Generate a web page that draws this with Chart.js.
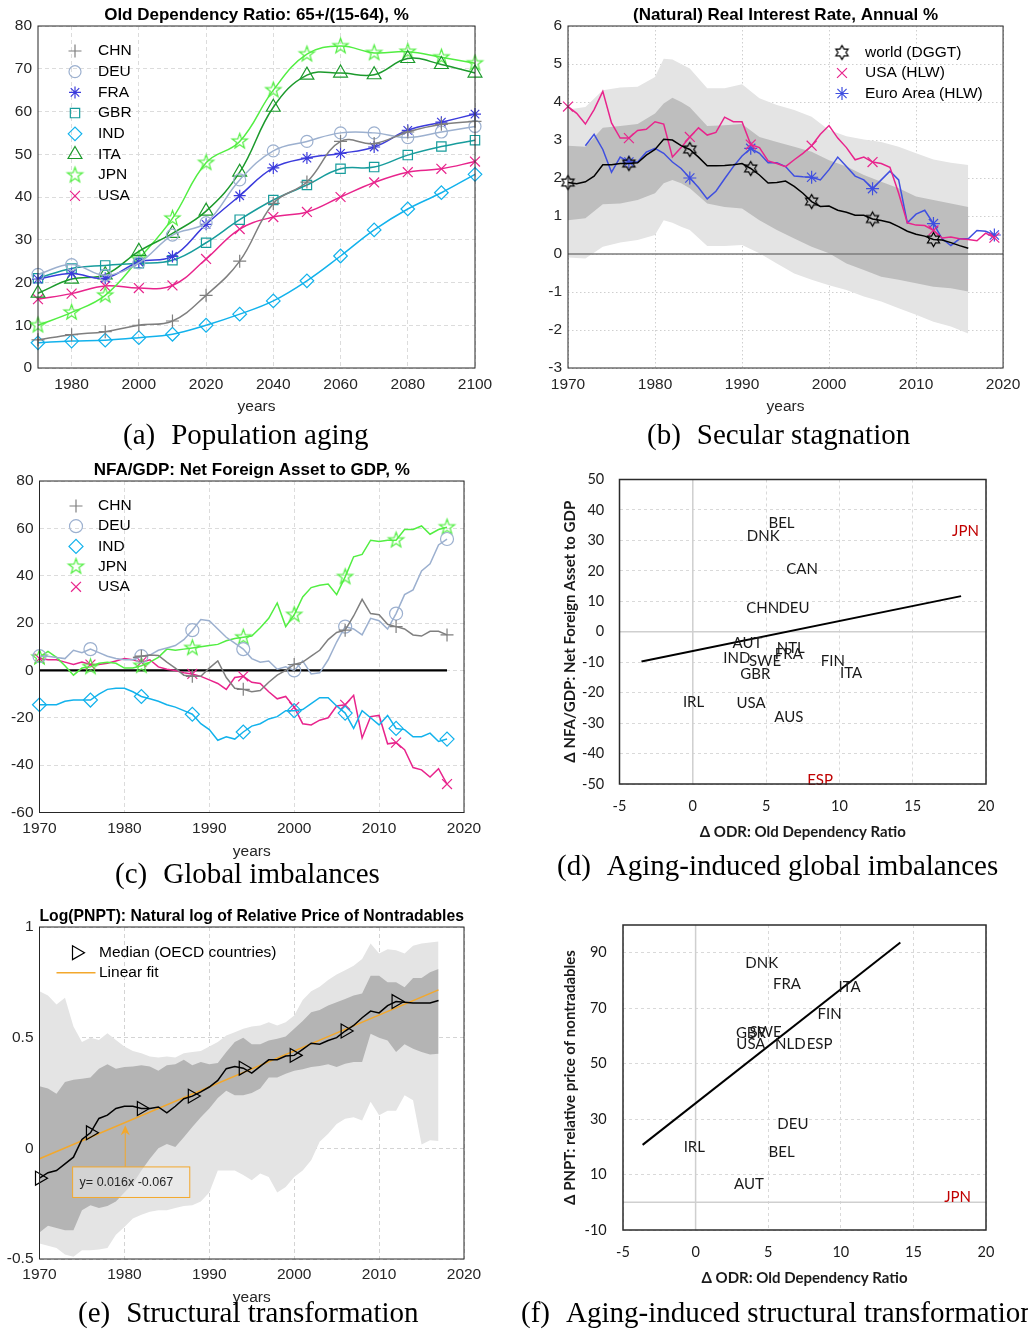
<!DOCTYPE html>
<html>
<head>
<meta charset="utf-8">
<title>Aging, stagnation, imbalances</title>
<script src="https://cdn.jsdelivr.net/npm/chart.js@4.4.1/dist/chart.umd.min.js"></script>
<style>
  html, body { margin: 0; padding: 0; background: #fff; }
  body { width: 1028px; height: 1330px; position: relative; overflow: hidden; }
  canvas { position: absolute; }
  .cap { position: absolute; font-family: "Liberation Serif", "Times New Roman", serif; font-size: 29px; line-height: 1; color: #000; white-space: nowrap; }
  .cap i { display: inline-block; width: 16px; }
</style>
</head>
<body>
<canvas id="cA" width="514" height="420" style="left:0;top:0"></canvas>
<canvas id="cB" width="514" height="420" style="left:514px;top:0"></canvas>
<canvas id="cC" width="514" height="420" style="left:0;top:455px"></canvas>
<canvas id="cD" width="514" height="400" style="left:514px;top:455px"></canvas>
<canvas id="cE" width="514" height="415" style="left:0;top:895px"></canvas>
<canvas id="cF" width="514" height="400" style="left:514px;top:895px"></canvas>

<div class="cap" style="left:123px;top:420px">(a)<i></i>Population aging</div>
<div class="cap" style="left:647px;top:420px">(b)<i></i>Secular stagnation</div>
<div class="cap" style="left:115px;top:859px">(c)<i></i>Global imbalances</div>
<div class="cap" style="left:557px;top:851px">(d)<i></i>Aging-induced global imbalances</div>
<div class="cap" style="left:78px;top:1298px">(e)<i></i>Structural transformation</div>
<div class="cap" style="left:521px;top:1298px">(f)<i></i>Aging-induced structural transformation</div>

<script>
function range(a, b) { const r = []; for (let v = a; v <= b; v++) r.push(v); return r; }

// ---------- (a) old dependency ratio ----------
const odrYears = [1970, 1980, 1990, 2000, 2010, 2020, 2030, 2040, 2050, 2060, 2070, 2080, 2090, 2100];
const odrCHN = [6.6, 7.8, 8.5, 10, 11, 17, 25, 38.5, 43.5, 53, 52.5, 55.2, 57, 57.7];
const odrDEU = [21.9, 24.2, 21.7, 24.6, 31.1, 34, 44, 50.8, 53, 55, 55, 53.9, 55.2, 56.5];
const odrFRA = [20.8, 22.1, 21, 24.8, 26.1, 33.6, 40.3, 46.8, 49.1, 50.2, 51.7, 55.6, 57.5, 59.4];
const odrGBR = [21, 23.3, 24, 24.5, 25.2, 29.3, 34.7, 39.3, 42.8, 46.6, 47, 49.8, 51.8, 53.3];
const odrIND = [5.9, 6.3, 6.5, 7.1, 7.9, 10, 12.6, 15.7, 20.4, 26.2, 32.3, 37.2, 41, 45.3];
const odrITA = [17.5, 20.8, 21.8, 27.3, 31.5, 36.7, 45.8, 61, 68.5, 69, 68.6, 72.4, 71, 69];
const odrJPN = [10, 13, 17, 25.5, 35, 48, 53, 65, 73.4, 75.3, 73.7, 74, 72.7, 71.3];
const odrUSA = [16.1, 17.4, 19.2, 18.7, 19.3, 25.5, 32.5, 35.3, 36.5, 40, 43.4, 45.8, 46.6, 48.3];
const odrXTicks = [1980, 2000, 2020, 2040, 2060, 2080, 2100];
const odrYTicks = [0, 10, 20, 30, 40, 50, 60, 70, 80];

// ---------- (b) natural real interest rate ----------
const rateMarkYears = [1970, 1977, 1984, 1991, 1998, 2005, 2012, 2019];
const worldYears = range(1970, 2016);
const worldRate = [1.88, 1.85, 1.9, 2.05, 2.35, 2.35, 2.38, 2.38, 2.4, 2.6,
  2.75, 3.02, 3.0, 2.85, 2.75, 2.55, 2.32, 2.32, 2.33, 2.35,
  2.38, 2.25, 2.08, 1.87, 1.88, 1.92, 1.78, 1.6, 1.38, 1.25,
  1.26, 1.15, 1.1, 1.02, 1.02, 0.92, 0.88, 0.83, 0.72, 0.6,
  0.52, 0.47, 0.38, 0.37, 0.3, 0.22, 0.15];
const usaRateYears = range(1970, 2019);
const usaRate = [3.88, 3.7, 3.42, 3.8, 4.28, 3.45, 3.05, 3.05, 3.25, 3.28,
  3.48, 3.42, 2.55, 2.8, 3.08, 3.32, 3.13, 3.2, 3.6, 3.48,
  3.48, 2.88, 2.8, 2.45, 2.38, 2.3, 2.48, 2.65, 2.85, 3.15,
  3.38, 3.05, 2.8, 2.48, 2.55, 2.42, 2.38, 2.28, 1.6, 0.82,
  0.76, 0.75, 0.62, 0.42, 0.45, 0.4, 0.38, 0.35, 0.55, 0.43];
const euroRateYears = range(1972, 2019);
const euroRate = [2.85, 3.15, 2.75, 2.15, 2.55, 2.42, 2.42, 2.68,
  2.78, 2.65, 2.42, 2.25, 2.0, 1.75, 1.45, 1.65, 1.98, 2.3,
  2.58, 2.78, 2.65, 2.4, 2.4, 2.3, 2.05, 2.03, 2.02, 1.95,
  2.22, 2.55, 2.3, 2.05, 1.95, 1.72, 1.95, 2.18, 1.95, 0.82,
  1.05, 1.15, 0.8, 0.4, 0.22, 0.4, 0.4, 0.62, 0.6, 0.5];
const rateBandYears = [1970, 1972, 1974, 1976, 1978, 1980, 1981, 1982, 1983, 1984, 1986, 1988, 1990,
  1992, 1994, 1996, 1998, 2000, 2002, 2004, 2006, 2008, 2010, 2012, 2014, 2016];
const rateOuterHi = [3.8, 3.87, 4.31, 4.38, 4.4, 4.66, 5.14, 5.12, 5.0, 4.88, 4.36, 4.36, 4.47,
  4.1, 3.92, 3.79, 3.61, 3.26, 3.1, 3.01, 2.95, 2.82, 2.65, 2.49, 2.4, 2.34];
const rateOuterLo = [-0.09, -0.12, 0.19, 0.3, 0.37, 0.5, 0.89, 0.82, 0.72, 0.63, 0.21, 0.21, 0.24,
  0.02, -0.25, -0.51, -0.68, -0.82, -0.95, -1.12, -1.25, -1.43, -1.6, -1.78, -1.91, -2.09];
const rateInnerHi = [2.85, 2.82, 3.32, 3.37, 3.42, 3.7, 3.96, 4.11, 4.0, 3.86, 3.37, 3.39, 3.42,
  3.08, 2.95, 2.82, 2.69, 2.47, 2.3, 2.08, 1.9, 1.73, 1.51, 1.42, 1.33, 1.24];
const rateInnerLo = [0.89, 0.94, 1.31, 1.33, 1.42, 1.6, 1.86, 1.95, 1.86, 1.73, 1.33, 1.24, 1.2,
  0.89, 0.63, 0.41, 0.19, 0.02, -0.25, -0.42, -0.6, -0.68, -0.77, -0.86, -0.9, -0.99];
const rateXTicks = [1970, 1980, 1990, 2000, 2010, 2020];
const rateYTicks = [-3, -2, -1, 0, 1, 2, 3, 4, 5, 6];

// ---------- (c) net foreign assets to GDP ----------
const nfaMarkYears = [1970, 1976, 1982, 1988, 1994, 2000, 2006, 2012, 2018];
const nfaYears = range(1970, 2018);
const nfaChnYears = range(1981, 2018);
const nfaCHN = [5.5, 6, 6.5, 6.3, 3.5, 1, -2, -2.5, -2.5,
  1, 4, -3, -7.5, -8, -9, -8.5, -5, -2, 0,
  2.5, 3.5, 6, 8.5, 13, 16, 17, 23, 30, 24,
  23.5, 19.5, 18.5, 17.5, 15, 14.5, 16.5, 16.5, 15];
const nfaDEU = [6, 6, 5.5, 5, 8.5, 7.5, 9, 7.5, 6, 5,
  4.5, 4.5, 6, 6.5, 8.5, 9.5, 10.5, 13, 17, 21.5,
  21, 17.5, 14, 11.5, 9, 5, 3.5, 4, 0.5, 1.5,
  0, 4, -1.5, -1, 4.5, 12, 18.5, 17.5, 15, 22,
  21, 17.5, 24, 32, 34, 42, 45, 53, 55.5];
const nfaIND = [-14.5, -14.5, -14.5, -13, -12.5, -12.5, -12.5, -10, -8, -7.5,
  -7.5, -9, -11, -12, -13, -14.5, -15.5, -17, -18.5, -22.5,
  -25, -29.5, -28, -29, -26, -23.5, -22.5, -20.5, -19.5, -17,
  -17, -16.5, -14, -11.5, -11.5, -15, -18, -24.5, -17, -20,
  -23, -19, -24.5, -25, -28, -28, -26.5, -30, -29];
const nfaJPN = [5.5, 8, 5.5, 2, -2, 1, 1.5, 3, 3.5, 3,
  1, 1, 2, 3.5, 5.5, 9, 8.5, 9, 9.5, 10,
  10.5, 11, 12.5, 13.5, 14, 14.5, 18, 22, 28.5, 18.5,
  23.5, 31, 35, 36, 36.5, 32, 39.5, 48, 49, 55,
  54.5, 55, 55, 59.5, 59.5, 61, 57.5, 59.5, 60.5];
const nfaUSA = [5, 4.5, 4.5, 3.5, 2.5, 3.5, 2.5, 2.5, 3, 4,
  5, 4.5, 3.5, 4.5, 1.5, 0.5, 0, -1, -1.5, -2.5,
  -4, -5.5, -8, -3, -2.5, -5, -5.5, -9, -12, -11,
  -15.5, -22.5, -23, -21, -20, -15, -14.5, -10.5, -28.5, -19.5,
  -19, -31, -30.5, -33.5, -41, -42, -45, -41.5, -48];
const nfaZeroYears = [1970, 2018];
const nfaZeroLevel = [0, 0];
const nfaXTicks = [1970, 1980, 1990, 2000, 2010, 2020];
const nfaYTicks = [-60, -40, -20, 0, 20, 40, 60, 80];

// ---------- (d) delta NFA vs delta ODR ----------
const dCountries = ['BEL', 'DNK', 'JPN', 'CAN', 'CHN', 'DEU', 'AUT', 'NTL', 'FRA', 'IND', 'SWE', 'FIN', 'GBR', 'ITA', 'IRL', 'USA', 'AUS', 'ESP'];
const dOdr = [6.05, 4.8, 18.6, 7.45, 4.77, 6.9, 3.73, 6.68, 6.55, 3.0, 4.93, 9.55, 4.27, 10.8, 0.05, 3.98, 6.55, 8.68];
const dNfa = [35.8, 31.4, 33.0, 20.6, 7.8, 7.8, -3.7, -5.3, -7.4, -8.75, -9.5, -9.6, -13.8, -13.5, -23, -23.3, -27.9, -48.9];
const dRed = ['JPN', 'ESP'];
const dFitX = [-3.5, 18.3];
const dFitY = [-9.8, 11.7];
const dXTicks = [-5, 0, 5, 10, 15, 20];
const dYTicks = [-50, -40, -30, -20, -10, 0, 10, 20, 30, 40, 50];

// ---------- (e) relative price of nontradables ----------
const pnptMarkYears = [1970, 1976, 1982, 1988, 1994, 2000, 2006, 2012];
const pnptYears = range(1970, 2017);
const pnptMedian = [-0.135, -0.11, -0.1, -0.07, -0.04, 0.04, 0.07, 0.135, 0.15, 0.18,
  0.19, 0.19, 0.18, 0.18, 0.187, 0.16, 0.19, 0.224, 0.236, 0.255,
  0.277, 0.307, 0.36, 0.37, 0.362, 0.34, 0.37, 0.4, 0.4, 0.417,
  0.42, 0.447, 0.475, 0.47, 0.487, 0.5, 0.53, 0.555, 0.59, 0.62,
  0.612, 0.645, 0.663, 0.66, 0.657, 0.657, 0.657, 0.668];
const pnptOuterHi = [0.71, 0.69, 0.65, 0.68, 0.55, 0.48, 0.5, 0.49, 0.52, 0.49,
  0.46, 0.44, 0.43, 0.415, 0.41, 0.415, 0.41, 0.43, 0.435, 0.44,
  0.46, 0.48, 0.51, 0.525, 0.54, 0.55, 0.555, 0.57, 0.555, 0.57,
  0.6, 0.67, 0.71, 0.73, 0.76, 0.785, 0.805, 0.825, 0.855, 0.925,
  0.88, 0.9, 0.895, 0.88, 0.915, 0.925, 0.93, 0.935];
const pnptOuterLo = [-0.43, -0.44, -0.45, -0.48, -0.49, -0.46, -0.46, -0.457, -0.45, -0.39,
  -0.355, -0.317, -0.3, -0.287, -0.28, -0.28, -0.27, -0.26, -0.257, -0.24,
  -0.2, -0.1, -0.1, -0.1, -0.12, -0.144, -0.114, -0.13, -0.2, -0.175,
  -0.13, -0.1, -0.054, 0.03, 0.066, 0.11, 0.134, 0.14, 0.126, 0.21,
  0.15, 0.17, 0.17, 0.24, 0.217, 0.017, 0.036, 0.033];
const pnptInnerHi = [0.28, 0.27, 0.247, 0.3, 0.31, 0.314, 0.32, 0.36, 0.38, 0.36,
  0.367, 0.37, 0.375, 0.37, 0.35, 0.375, 0.38, 0.4, 0.375, 0.39,
  0.38, 0.385, 0.435, 0.48, 0.5, 0.47, 0.47, 0.487, 0.495, 0.505,
  0.54, 0.575, 0.615, 0.625, 0.645, 0.66, 0.675, 0.69, 0.7, 0.78,
  0.78, 0.75, 0.75, 0.728, 0.77, 0.77, 0.796, 0.81];
const pnptInnerLo = [-0.38, -0.35, -0.36, -0.37, -0.37, -0.28, -0.257, -0.27, -0.26, -0.24,
  -0.2, -0.16, -0.1, -0.047, 0, 0.02, 0.006, 0.05, 0.096, 0.14,
  0.18, 0.227, 0.26, 0.24, 0.24, 0.25, 0.27, 0.32, 0.32, 0.337,
  0.35, 0.357, 0.367, 0.372, 0.38, 0.367, 0.382, 0.39, 0.39, 0.518,
  0.5, 0.487, 0.435, 0.47, 0.45, 0.435, 0.424, 0.427];
const pnptFitYears = [1970, 2017];
const pnptFitValues = [-0.047, 0.716];
const pnptXTicks = [1970, 1980, 1990, 2000, 2010, 2020];
const pnptYTicks = [-0.5, 0, 0.5, 1];

// ---------- (f) delta PNPT vs delta ODR ----------
const fCountries = ['DNK', 'FRA', 'ITA', 'FIN', 'GBR', 'SWE', 'USA', 'NLD', 'ESP', 'DEU', 'IRL', 'BEL', 'AUT', 'JPN'];
const fOdr = [4.55, 6.29, 10.6, 9.23, 3.81, 4.82, 3.81, 6.52, 8.54, 6.7, -0.09, 5.92, 3.67, 18.04];
const fPnpt = [86.2, 78.6, 77.5, 68.0, 61.0, 61.3, 57.2, 57.2, 56.9, 28.0, 20.0, 17.9, 6.6, 1.8];
const fRed = ['JPN'];
const fFitX = [-3.65, 14.1];
const fFitY = [20.7, 93.7];
const fXTicks = [-5, 0, 5, 10, 15, 20];
const fYTicks = [-10, 10, 30, 50, 70, 90];

// ---------- styling ----------
const FONT_M = '"Liberation Sans", Arial, Helvetica, sans-serif';
const FONT_X = 'Lato, "Open Sans", sans-serif';
const INK = '#262626';
const C = {
  chn: '#7f7f7f', deu: '#9cb0cf', fra: '#3b3bdc', gbr: '#179c9c', ind: '#12b2ec',
  ita: '#1c9a2c', jpn: '#52ee42', usa: '#e8248c', euro: '#3f4fe0', orange: '#f3a82c'
};

function pts(xs, ys) { return xs.map((x, i) => ({ x: x, y: ys[i] })); }

// outline star markers (MATLAB pentagram / hexagram)
function starMarker(n, rOut, rIn, color, lw) {
  const s = Math.ceil(2 * rOut + 2 * lw + 2);
  const cv = document.createElement('canvas');
  cv.width = s; cv.height = s;
  const g = cv.getContext('2d');
  g.strokeStyle = color; g.lineWidth = lw; g.lineJoin = 'miter';
  g.beginPath();
  for (let i = 0; i < 2 * n; i++) {
    const r = i % 2 ? rIn : rOut;
    const a = -Math.PI / 2 + i * Math.PI / n;
    const px = s / 2 + r * Math.cos(a), py = s / 2 + r * Math.sin(a);
    if (i) g.lineTo(px, py); else g.moveTo(px, py);
  }
  g.closePath(); g.stroke();
  return cv;
}
const pentaJPN = starMarker(5, 8, 3.2, C.jpn, 1.2);
const hexaWorld = starMarker(6, 7, 4.0, '#000', 1.2);

function series(label, xs, ys, color, style, r, marks, extra) {
  return Object.assign({
    label: label, data: pts(xs, ys), borderColor: color, backgroundColor: color,
    borderWidth: 1.5, pointStyle: style, markerR: r,
    pointRadius: c => (!marks || marks.includes(c.raw.x)) ? r : 0,
    pointHoverRadius: 0, pointBorderColor: color, pointBackgroundColor: 'rgba(0,0,0,0)',
    pointBorderWidth: 1.2, tension: 0, fill: false, clip: false, order: 0
  }, extra || {});
}
function band(xs, ys, color, target, order) {
  return { label: '', data: pts(xs, ys), borderColor: 'rgba(0,0,0,0)', borderWidth: 0,
    pointRadius: 0, backgroundColor: color, fill: target, order: order, tension: 0 };
}

// chart area placement inside each canvas
function place(box, plot, padL, xH, tH) {
  return {
    padding: { left: padL, top: plot.t - box.t - tH, right: box.l + box.w - plot.r, bottom: box.t + box.h - plot.b - xH },
    yW: plot.l - box.l - padL, xH: xH
  };
}

// ---------- plugins ----------
const framePlugin = {
  id: 'frame',
  afterDatasetsDraw(chart, args, o) {
    const a = chart.chartArea, ctx = chart.ctx;
    ctx.save();
    ctx.strokeStyle = o.color || INK;
    ctx.lineWidth = o.width || 1;
    ctx.strokeRect(a.left, a.top, a.right - a.left, a.bottom - a.top);
    ctx.restore();
  }
};

function drawRefLines(chart, o) {
  const { ctx, chartArea: a, scales } = chart;
  ctx.save();
  ctx.strokeStyle = o.color; ctx.lineWidth = o.width;
  (o.x || []).forEach(v => {
    const px = scales.x.getPixelForValue(v);
    ctx.beginPath(); ctx.moveTo(px, a.top); ctx.lineTo(px, a.bottom); ctx.stroke();
  });
  (o.y || []).forEach(v => {
    const py = scales.y.getPixelForValue(v);
    ctx.beginPath(); ctx.moveTo(a.left, py); ctx.lineTo(a.right, py); ctx.stroke();
  });
  ctx.restore();
}
const refLinePlugin = {
  id: 'refLines',
  beforeDatasetsDraw(chart, args, o) { if (!o.onTop) drawRefLines(chart, o); },
  afterDatasetsDraw(chart, args, o) { if (o.onTop) drawRefLines(chart, o); }
};

const boxLegendPlugin = {
  id: 'boxLegend',
  afterDatasetsDraw(chart, args, o) {
    const { ctx, chartArea: a } = chart;
    ctx.save();
    ctx.font = o.font;
    ctx.textBaseline = 'middle';
    ctx.textAlign = 'left';
    o.items.forEach((idx, k) => {
      const ds = chart.data.datasets[idx];
      const y = a.top + o.y + k * o.rowH;
      if (ds.legendLine) {
        ctx.strokeStyle = ds.borderColor; ctx.lineWidth = ds.borderWidth;
        ctx.beginPath(); ctx.moveTo(a.left + o.lineX0, y); ctx.lineTo(a.left + o.lineX1, y); ctx.stroke();
      } else {
        ctx.strokeStyle = ds.borderColor;
        ctx.fillStyle = 'rgba(0,0,0,0)';
        ctx.lineWidth = ds.pointBorderWidth;
        Chart.helpers.drawPoint(ctx, {
          pointStyle: ds.pointStyle, rotation: ds.pointRotation || 0,
          radius: ds.markerR, borderWidth: ds.pointBorderWidth
        }, a.left + o.markerX, y);
      }
      ctx.fillStyle = o.color;
      ctx.fillText(ds.label, a.left + o.textX, y);
    });
    ctx.restore();
  }
};

const namedPointsPlugin = {
  id: 'namedPoints',
  afterDatasetsDraw(chart, args, o) {
    const ctx = chart.ctx;
    chart.data.datasets.forEach((ds, i) => {
      if (!ds.pointNames) return;
      const meta = chart.getDatasetMeta(i);
      ctx.save();
      ctx.font = o.font; ctx.textAlign = 'center'; ctx.textBaseline = 'middle';
      meta.data.forEach((el, j) => {
        const name = ds.pointNames[j];
        ctx.fillStyle = o.red.includes(name) ? '#c00000' : o.color;
        ctx.fillText(name, el.x, el.y);
      });
      ctx.restore();
    });
  }
};

const fitNotePlugin = {
  id: 'fitNote',
  afterDatasetsDraw(chart, args, o) {
    const { ctx, scales: { x, y } } = chart;
    const l = x.getPixelForValue(o.box[0]), r = x.getPixelForValue(o.box[1]);
    const t = y.getPixelForValue(o.box[2]), b = y.getPixelForValue(o.box[3]);
    const ax = x.getPixelForValue(o.arrowX), tip = y.getPixelForValue(o.arrowTip);
    ctx.save();
    ctx.fillStyle = 'rgba(236,236,236,0.55)';
    ctx.fillRect(l, t, r - l, b - t);
    ctx.strokeStyle = o.color; ctx.lineWidth = 1;
    ctx.strokeRect(l, t, r - l, b - t);
    ctx.beginPath(); ctx.moveTo(ax, t); ctx.lineTo(ax, tip + 6); ctx.stroke();
    ctx.fillStyle = o.color;
    ctx.beginPath(); ctx.moveTo(ax, tip); ctx.lineTo(ax - 4.5, tip + 10); ctx.lineTo(ax, tip + 7); ctx.lineTo(ax + 4.5, tip + 10); ctx.closePath(); ctx.fill();
    ctx.fillStyle = INK; ctx.font = o.font; ctx.textBaseline = 'middle'; ctx.textAlign = 'left';
    ctx.fillText(o.text, l + 7, (t + b) / 2);
    ctx.restore();
  }
};

// ---------- shared option builders ----------
function matlabOptions(L, o) {
  return {
    responsive: false, animation: false, events: [], devicePixelRatio: 1,
    layout: { padding: L.padding },
    plugins: {
      legend: { display: false }, tooltip: { enabled: false },
      title: { display: true, text: o.title, fullSize: false, color: '#000',
        padding: { top: 0, bottom: 0 }, font: { family: FONT_M, size: 17, weight: 'bold' } },
      frame: { color: INK, width: 1 },
      refLines: o.refLines || {},
      boxLegend: o.legend || { items: [] },
      fitNote: o.note || {}
    },
    scales: {
      x: {
        type: 'linear', min: o.xMin, max: o.xMax,
        afterBuildTicks: s => { s.ticks = o.xTicks.map(v => ({ value: v })); },
        afterFit: s => { s.height = L.xH; },
        grid: { color: o.gridColor, drawTicks: false, lineWidth: 1 },
        border: { display: false, dash: o.dash },
        ticks: { padding: o.xPad, color: INK, maxRotation: 0, autoSkip: false,
          font: { family: FONT_M, size: 15.5 }, callback: v => String(v) },
        title: { display: true, text: 'years', padding: 0, color: INK, font: { family: FONT_M, size: 15.5 } }
      },
      y: {
        type: 'linear', min: o.yMin, max: o.yMax,
        afterBuildTicks: s => { s.ticks = o.yTicks.map(v => ({ value: v })); },
        afterFit: s => { s.width = L.yW; },
        grid: { color: o.gridColor, drawTicks: false, lineWidth: 1 },
        border: { display: false, dash: o.dash },
        ticks: { padding: 6, color: INK, autoSkip: false,
          font: { family: FONT_M, size: 15.5 }, callback: v => String(v) }
      }
    }
  };
}

function excelOptions(L, o) {
  return {
    responsive: false, animation: false, events: [], devicePixelRatio: 1,
    layout: { padding: L.padding },
    plugins: {
      legend: { display: false }, tooltip: { enabled: false },
      frame: { color: '#2b2b2b', width: 1.5 },
      refLines: { x: [0], y: [0], color: '#cfcfcf', width: 1.5 },
      namedPoints: { font: '15px ' + FONT_X, color: '#1a1a1a', red: o.red }
    },
    scales: {
      x: {
        type: 'linear', min: o.xMin, max: o.xMax,
        afterBuildTicks: s => { s.ticks = o.xTicks.map(v => ({ value: v })); },
        afterFit: s => { s.height = L.xH; },
        grid: { color: '#d9d9d9', drawTicks: false },
        border: { display: false, dash: [3, 3] },
        ticks: { padding: 13.5, color: '#1a1a1a', maxRotation: 0, autoSkip: false,
          font: { family: FONT_X, size: 14.5 }, callback: v => String(v) },
        title: { display: true, text: o.xTitle, padding: 0, color: '#1a1a1a',
          font: { family: FONT_X, size: 15, weight: 'bold' } }
      },
      y: {
        type: 'linear', min: o.yMin, max: o.yMax,
        afterBuildTicks: s => { s.ticks = o.yTicks.map(v => ({ value: v })); },
        afterFit: s => { s.width = L.yW; },
        grid: { color: '#d9d9d9', drawTicks: false },
        border: { display: false, dash: [3, 3] },
        ticks: { padding: o.yPad, color: '#1a1a1a', autoSkip: false,
          font: { family: FONT_X, size: 14.5 }, callback: v => String(v) },
        title: { display: true, text: o.yTitle, padding: 0, color: '#1a1a1a',
          font: { family: FONT_X, size: 15, weight: 'bold' } }
      }
    }
  };
}

const M_PLUGINS = [refLinePlugin, framePlugin, boxLegendPlugin];
const TITLE_H = 17 * 1.2;

// ---------- (a) ----------
{
  const L = place({ l: 0, t: 0, w: 514, h: 420 }, { l: 38, t: 26, r: 475, b: 368 }, 0, 48.5, TITLE_H);
  const sm = { tension: 0.4 };
  new Chart(document.getElementById('cA'), {
    type: 'line',
    data: { datasets: [
      series('CHN', odrYears, odrCHN, C.chn, 'cross', 6.5, null, sm),
      series('DEU', odrYears, odrDEU, C.deu, 'circle', 6, null, sm),
      series('FRA', odrYears, odrFRA, C.fra, 'star', 6, null, sm),
      series('GBR', odrYears, odrGBR, C.gbr, 'rect', 6.6, null, sm),
      series('IND', odrYears, odrIND, C.ind, 'rectRot', 6.8, null, sm),
      series('ITA', odrYears, odrITA, C.ita, 'triangle', 8, null, sm),
      series('JPN', odrYears, odrJPN, C.jpn, pentaJPN, 8, null, sm),
      series('USA', odrYears, odrUSA, C.usa, 'crossRot', 7, null, sm)
    ] },
    options: matlabOptions(L, {
      title: 'Old Dependency Ratio: 65+/(15-64), %',
      xMin: 1970, xMax: 2100, xTicks: odrXTicks, yMin: 0, yMax: 80, yTicks: odrYTicks,
      gridColor: '#dcdcdc', dash: [4, 3], xPad: 7.7,
      legend: { items: [0, 1, 2, 3, 4, 5, 6, 7], markerX: 37, textX: 60, y: 25, rowH: 20.7,
        font: '15.5px ' + FONT_M, color: '#000' }
    }),
    plugins: M_PLUGINS
  });
}

// ---------- (b) ----------
{
  const L = place({ l: 514, t: 0, w: 514, h: 420 }, { l: 568, t: 26, r: 1006, b: 368 }, 0, 48.5, TITLE_H);
  new Chart(document.getElementById('cB'), {
    type: 'line',
    data: { datasets: [
      series('world (DGGT)', worldYears, worldRate, '#000', hexaWorld, 7, rateMarkYears),
      series('USA (HLW)', usaRateYears, usaRate, C.usa, 'crossRot', 7, rateMarkYears),
      series('Euro Area (HLW)', euroRateYears, euroRate, C.euro, 'star', 6.5, rateMarkYears),
      band(rateBandYears, rateInnerHi, '#bebebe', '+1', 5),
      band(rateBandYears, rateInnerLo, '#bebebe', false, 5),
      band(rateBandYears, rateOuterHi, '#e4e4e4', '+1', 10),
      band(rateBandYears, rateOuterLo, '#e4e4e4', false, 10)
    ] },
    options: matlabOptions(L, {
      title: '(Natural) Real Interest Rate, Annual %',
      xMin: 1970, xMax: 2020, xTicks: rateXTicks, yMin: -3, yMax: 6, yTicks: rateYTicks,
      gridColor: '#cfcfcf', dash: [1.5, 2.5], xPad: 7.7,
      refLines: { y: [0], color: '#7d7d7d', width: 1.5, onTop: true },
      legend: { items: [0, 1, 2], markerX: 274, textX: 297, y: 26.5, rowH: 20.5,
        font: '15.5px ' + FONT_M, color: '#000' }
    }),
    plugins: M_PLUGINS
  });
}

// ---------- (c) ----------
{
  const L = place({ l: 0, t: 455, w: 514, h: 420 }, { l: 39.5, t: 481, r: 464, b: 812.5 }, 0, 48.5, TITLE_H);
  new Chart(document.getElementById('cC'), {
    type: 'line',
    data: { datasets: [
      series('CHN', nfaChnYears, nfaCHN, C.chn, 'cross', 6.5, nfaMarkYears),
      series('DEU', nfaYears, nfaDEU, C.deu, 'circle', 6.5, nfaMarkYears),
      series('IND', nfaYears, nfaIND, C.ind, 'rectRot', 7, nfaMarkYears),
      series('JPN', nfaYears, nfaJPN, C.jpn, pentaJPN, 8, nfaMarkYears),
      series('USA', nfaYears, nfaUSA, C.usa, 'crossRot', 7, nfaMarkYears),
      series('', nfaZeroYears, nfaZeroLevel, '#000', 'circle', 0, [], { borderWidth: 2.2, order: 1 })
    ] },
    options: matlabOptions(L, {
      title: 'NFA/GDP: Net Foreign Asset to GDP, %',
      xMin: 1970, xMax: 2020, xTicks: nfaXTicks, yMin: -60, yMax: 80, yTicks: nfaYTicks,
      gridColor: '#dcdcdc', dash: [4, 3], xPad: 6.5,
      legend: { items: [0, 1, 2, 3, 4], markerX: 36.5, textX: 58.5, y: 25, rowH: 20.2,
        font: '15.5px ' + FONT_M, color: '#000' }
    }),
    plugins: M_PLUGINS
  });
}

// ---------- (d) ----------
{
  const L = place({ l: 514, t: 455, w: 514, h: 400 }, { l: 619.5, t: 479.5, r: 986, b: 784 }, 47, 56.7, 0);
  new Chart(document.getElementById('cD'), {
    type: 'scatter',
    data: { datasets: [
      { label: 'countries', data: pts(dOdr, dNfa), pointNames: dCountries, pointRadius: 0, showLine: false, clip: false },
      { label: 'trend', data: pts(dFitX, dFitY), showLine: true, borderColor: '#000', borderWidth: 2, pointRadius: 0, clip: false }
    ] },
    options: excelOptions(L, {
      xMin: -5, xMax: 20, xTicks: dXTicks, yMin: -50, yMax: 50, yTicks: dYTicks, yPad: 15.3,
      xTitle: 'Δ ODR: Old Dependency Ratio', yTitle: 'Δ NFA/GDP: Net Foreign Asset to GDP', red: dRed
    }),
    plugins: [refLinePlugin, namedPointsPlugin, framePlugin]
  });
}

// ---------- (e) ----------
{
  const L = place({ l: 0, t: 895, w: 514, h: 415 }, { l: 39.5, t: 927, r: 464, b: 1259 }, 0, 48.5, TITLE_H);
  new Chart(document.getElementById('cE'), {
    type: 'line',
    data: { datasets: [
      series('Median (OECD countries)', pnptYears, pnptMedian, '#000', 'triangle', 8, pnptMarkYears, { pointRotation: 90 }),
      series('Linear fit', pnptFitYears, pnptFitValues, C.orange, 'circle', 0, [], { legendLine: true, order: 1 }),
      band(pnptYears, pnptInnerHi, '#b4b4b4', '+1', 5),
      band(pnptYears, pnptInnerLo, '#b4b4b4', false, 5),
      band(pnptYears, pnptOuterHi, '#e4e4e4', '+1', 10),
      band(pnptYears, pnptOuterLo, '#e4e4e4', false, 10)
    ] },
    options: matlabOptions(L, {
      title: 'Log(PNPT): Natural log of Relative Price of Nontradables',
      xMin: 1970, xMax: 2020, xTicks: pnptXTicks, yMin: -0.5, yMax: 1, yTicks: pnptYTicks,
      gridColor: '#d4d4d4', dash: [4, 3], xPad: 6.7,
      legend: { items: [0, 1], markerX: 37, textX: 59.5, y: 25.7, rowH: 20, lineX0: 17, lineX1: 56,
        font: '15.5px ' + FONT_M, color: '#000' },
      note: { box: [1973.9, 1987.7, -0.084, -0.222], arrowX: 1980.1, arrowTip: 0.104,
        text: 'y= 0.016x -0.067', color: C.orange, font: '12.5px ' + FONT_M }
    }),
    plugins: [refLinePlugin, framePlugin, boxLegendPlugin, fitNotePlugin]
  });
}

// ---------- (f) ----------
{
  const L = place({ l: 514, t: 895, w: 514, h: 400 }, { l: 623, t: 925, r: 986, b: 1230 }, 47, 56.7, 0);
  new Chart(document.getElementById('cF'), {
    type: 'scatter',
    data: { datasets: [
      { label: 'countries', data: pts(fOdr, fPnpt), pointNames: fCountries, pointRadius: 0, showLine: false, clip: false },
      { label: 'trend', data: pts(fFitX, fFitY), showLine: true, borderColor: '#000', borderWidth: 2, pointRadius: 0, clip: false }
    ] },
    options: excelOptions(L, {
      xMin: -5, xMax: 20, xTicks: fXTicks, yMin: -10, yMax: 100, yTicks: fYTicks, yPad: 16.3,
      xTitle: 'Δ ODR: Old Dependency Ratio', yTitle: 'Δ PNPT: relative price of nontradables', red: fRed
    }),
    plugins: [refLinePlugin, namedPointsPlugin, framePlugin]
  });
}
</script>
</body>
</html>
